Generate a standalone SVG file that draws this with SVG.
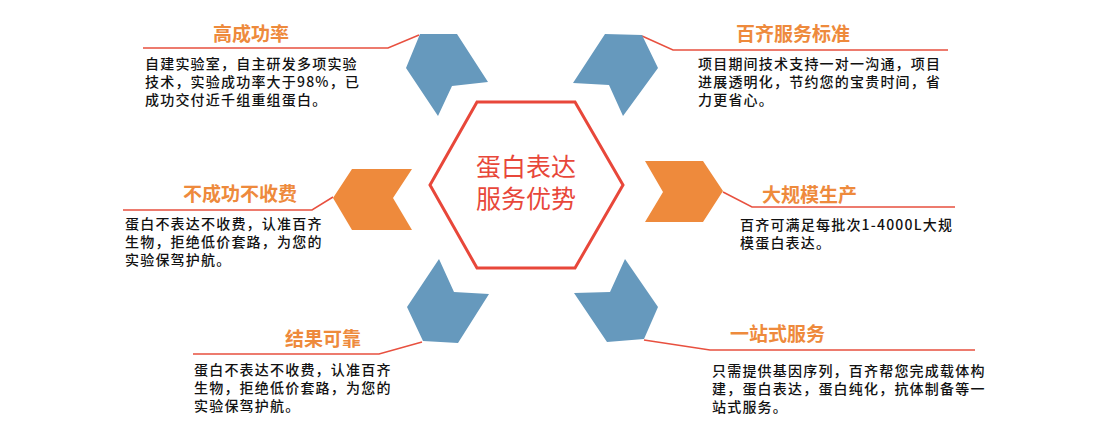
<svg xmlns="http://www.w3.org/2000/svg" width="1108" height="433" viewBox="0 0 1108 433">
<style>
.blue{fill:#6699bd}
.orange{fill:#ee8a3c}
.lead{fill:none;stroke:#e8503f;stroke-width:1.5}
.title{font-family:"Noto Sans CJK SC","Noto Sans",sans-serif;font-size:19px;font-weight:bold;fill:#ee8a3c}
.body{font-family:"Noto Sans CJK SC","Noto Sans",sans-serif;font-size:14px;font-weight:500;fill:#111;letter-spacing:1.2px}
.center{font-family:"Noto Sans CJK SC","Noto Sans",sans-serif;font-size:25px;fill:#e8473a;text-anchor:middle}
</style>
<rect width="1108" height="433" fill="#fff"/>
<g id="connectors">
<polyline class="lead" points="143,48 388,48 419,35"/>
<polyline class="lead" points="642,36 673,50 948,50"/>
<polyline class="lead" points="123,210 312,210 333,197"/>
<polyline class="lead" points="723,192 752,207 955,207"/>
<polyline class="lead" points="193,354 379,354 422,342"/>
<polyline class="lead" points="644,340 710,350 975,350"/>
</g>
<g id="center">
<polygon points="477,102 575,102 623,185 575,268 477,268 430,185" fill="#fff" stroke="#e8473a" stroke-width="3"/>
<text class="center" x="526"><tspan x="526" y="176">蛋白表达</tspan><tspan x="526" y="208">服务优势</tspan></text>
</g>
<g id="node-tl">
<polygon class="blue" points="420,34 457,34 488,82 452,86 438,116 406,68"/>
<text class="title" x="213" y="41">高成功率</text>
<text class="body" x="145"><tspan x="145" y="69">自建实验室，自主研发多项实验</tspan><tspan x="145" y="87">技术，实验成功率大于98%，已</tspan><tspan x="145" y="105">成功交付近千组重组蛋白。</tspan></text>
</g>
<g id="node-tr">
<polygon class="blue" points="605,34 642,35 658,68 623,116 609,85 573,83"/>
<text class="title" x="736" y="41">百齐服务标准</text>
<text class="body" x="698"><tspan x="698" y="69">项目期间技术支持一对一沟通，项目</tspan><tspan x="698" y="87">进展透明化，节约您的宝贵时间，省</tspan><tspan x="698" y="105">力更省心。</tspan></text>
</g>
<g id="node-l">
<polygon class="orange" points="352,169 412,169 393,198 412,230 352,230 333,198"/>
<text class="title" x="183" y="201">不成功不收费</text>
<text class="body" x="125"><tspan x="125" y="229">蛋白不表达不收费，认准百齐</tspan><tspan x="125" y="247">生物，拒绝低价套路，为您的</tspan><tspan x="125" y="265">实验保驾护航。</tspan></text>
</g>
<g id="node-r">
<polygon class="orange" points="645,161 703,161 723,191 703,222 645,222 663,192"/>
<text class="title" x="762" y="202">大规模生产</text>
<text class="body" x="740"><tspan x="740" y="230">百齐可满足每批次1-4000L大规</tspan><tspan x="740" y="248">模蛋白表达。</tspan></text>
</g>
<g id="node-bl">
<polygon class="blue" points="439,259 454,292 489,294 458,343 423,341 407,307"/>
<text class="title" x="285" y="346">结果可靠</text>
<text class="body" x="194"><tspan x="194" y="375">蛋白不表达不收费，认准百齐</tspan><tspan x="194" y="393">生物，拒绝低价套路，为您的</tspan><tspan x="194" y="411">实验保驾护航。</tspan></text>
</g>
<g id="node-br">
<polygon class="blue" points="625,259 658,307 644,339 607,342 574,293 610,292"/>
<text class="title" x="730" y="341">一站式服务</text>
<text class="body" x="712"><tspan x="712" y="376">只需提供基因序列，百齐帮您完成载体构</tspan><tspan x="712" y="394">建，蛋白表达，蛋白纯化，抗体制备等一</tspan><tspan x="712" y="412">站式服务。</tspan></text>
</g>
</svg>
